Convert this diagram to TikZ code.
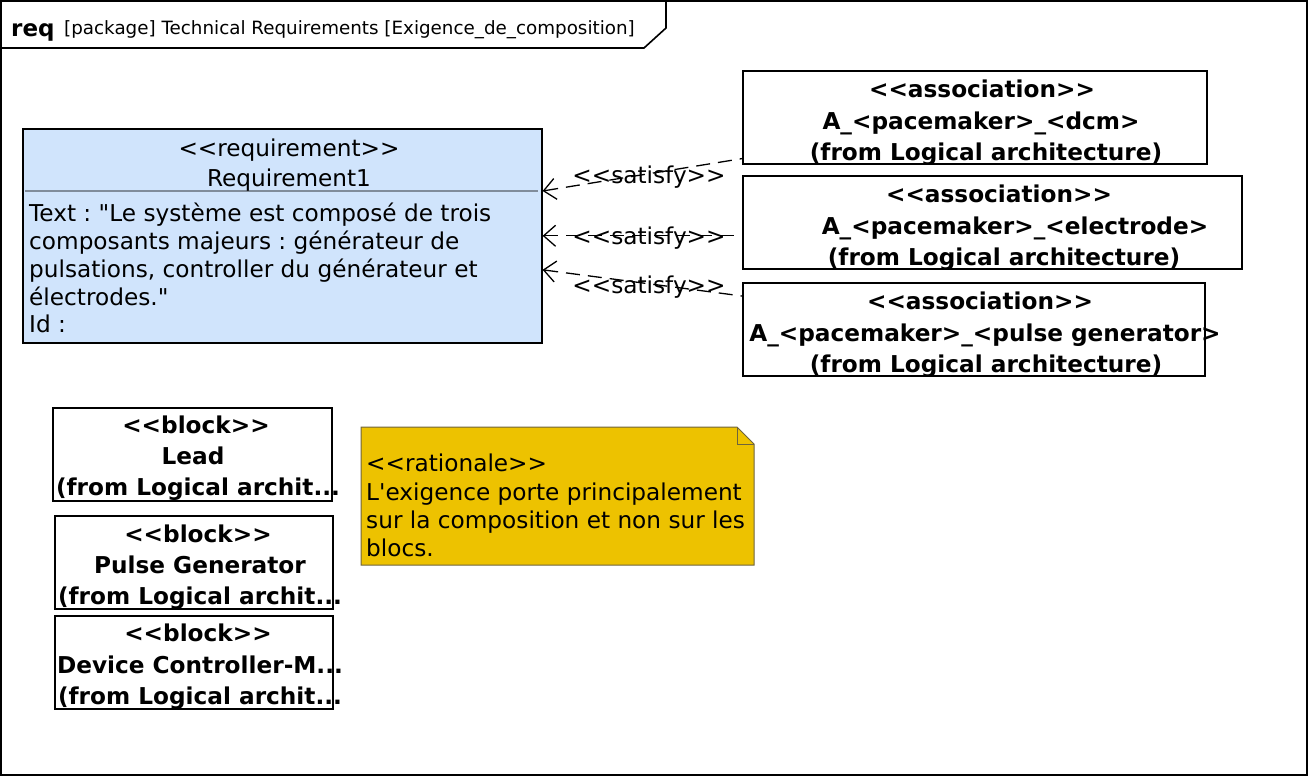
\documentclass[tikz,border=0pt]{standalone}
\usepackage{fontspec}
\setmainfont{DejaVu Sans}[Ligatures=TeXOff]
\usetikzlibrary{arrows.meta,calc}
\definecolor{reqfill}{RGB}{208,228,252}
\definecolor{notefill}{RGB}{237,194,0}
\definecolor{notedraw}{RGB}{110,100,60}
\definecolor{sepgray}{RGB}{128,140,155}
\frenchspacing
\begin{document}
\begin{tikzpicture}[x=1pt,y=-1pt,
  box/.style={draw=black, line width=1.6pt, anchor=north west, inner sep=0pt},
  txt/.style={anchor=base, inner sep=0pt, font=\fontsize{23.2}{27}\selectfont},
  btxt/.style={anchor=base, inner sep=0pt, font=\fontsize{23.2}{27}\selectfont\bfseries},
  ltxt/.style={anchor=base west, inner sep=0pt, font=\fontsize{23.2}{27}\selectfont},
  sat/.style={draw, dash pattern=on 14pt off 8pt, line width=1.3pt, {Straight Barb[length=12pt,width=21pt,line width=1.3pt]}-}
]
\useasboundingbox (0,0) rectangle (1308,777);
% frame
\draw[line width=1.6pt] (1,1) rectangle (1307,775);
\draw[line width=1.6pt] (1,48) -- (644,48) -- (666,28) -- (666,1);
\node[anchor=base west, inner sep=0pt, font=\fontsize{23}{26}\selectfont\bfseries] (hreq) at (11,36) {req};
\node[anchor=base west, inner sep=0pt, font=\fontsize{18.3}{21}\selectfont] (htitle) at (64,34) {[package] Technical Requirements [Exigence\_de\_composition]};

% requirement
\node[box, fill=reqfill, minimum width=519pt, minimum height=214pt] (req) at (22,128) {};
\draw[sepgray, line width=1.2pt] (25,191) -- (538,191);
\node[txt] (rq1) at (289,156) {<<requirement>>};
\node[txt] (rq2) at (289,186) {Requirement1};
\node[ltxt] (rq3) at (29,221) {Text : "Le système est composé de trois};
\node[ltxt] (rq4) at (29,249) {composants majeurs : générateur de};
\node[ltxt] (rq5) at (29,277) {pulsations, controller du générateur et};
\node[ltxt] (rq6) at (29,305) {électrodes."};
\node[ltxt] (rq7) at (29,332) {Id :};

% associations
\node[box, minimum width=464pt, minimum height=93pt] (a1) at (742,70) {};
\node[btxt] (a1t1) at (982,97) {<<association>>};
\node[btxt] (a1t2) at (981,129) {A\_<pacemaker>\_<dcm>};
\node[btxt] (a1t3) at (986,160) {(from Logical architecture)};

\node[box, minimum width=499pt, minimum height=93pt] (a2) at (742,175) {};
\node[btxt] (a2t1) at (999,202) {<<association>>};
\node[btxt] (a2t2) at (1015,234) {A\_<pacemaker>\_<electrode>};
\node[btxt] (a2t3) at (1004,265) {(from Logical architecture)};

\node[box, minimum width=462pt, minimum height=93pt] (a3) at (742,282) {};
\node[btxt] (a3t1) at (980,309) {<<association>>};
\node[btxt] (a3t2) at (985,341) {A\_<pacemaker>\_<pulse generator>};
\node[btxt] (a3t3) at (986,372) {(from Logical architecture)};

% satisfy connectors
\coordinate (r1) at ($(req.north east)+(0,63)$);
\coordinate (s1) at ($(a1.south west)+(0,-6)$);
\coordinate (r3) at ($(req.east)+(0,34)$);
\coordinate (s3) at ($(a3.north west)+(0,14)$);
\draw[sat] (r1) -- (s1);
\draw[sat] (req.east) -- (a2.west |- req.east);
\draw[sat] (r3) -- (s3);
\node[txt] (l1) at (649,183) {<<satisfy>>};
\node[txt] (l2) at (649,244) {<<satisfy>>};
\node[txt] (l3) at (649,293) {<<satisfy>>};

% blocks
\node[box, minimum width=279pt, minimum height=93pt] (b1) at (52,407) {};
\node[btxt] (b1t1) at (196,433) {<<block>>};
\node[btxt] (b1t2) at (193,464) {Lead};
\node[btxt] (b1t3) at (198,495) {(from Logical archit...};

\node[box, minimum width=278pt, minimum height=93pt] (b2) at (54,515) {};
\node[btxt] (b2t1) at (198,542) {<<block>>};
\node[btxt] (b2t2) at (200,573) {Pulse Generator};
\node[btxt] (b2t3) at (200,604) {(from Logical archit...};

\node[box, minimum width=278pt, minimum height=93pt] (b3) at (54,615) {};
\node[btxt] (b3t1) at (198,641) {<<block>>};
\node[btxt] (b3t2) at (200,673) {Device Controller-M...};
\node[btxt] (b3t3) at (200,704) {(from Logical archit...};

% note
\draw[fill=notefill, draw=notedraw, line width=1pt] (361,427) -- (737,427) -- (754,444) -- (754,565) -- (361,565) -- cycle;
\draw[draw=notedraw, line width=1pt] (737,427) -- (737,444) -- (754,444);
\node[ltxt] (n1) at (366,471) {<<rationale>>};
\node[ltxt] (n2) at (366,500) {L'exigence porte principalement};
\node[ltxt] (n3) at (366,528) {sur la composition et non sur les};
\node[ltxt] (n4) at (366,556) {blocs.};
\end{tikzpicture}
\end{document}
